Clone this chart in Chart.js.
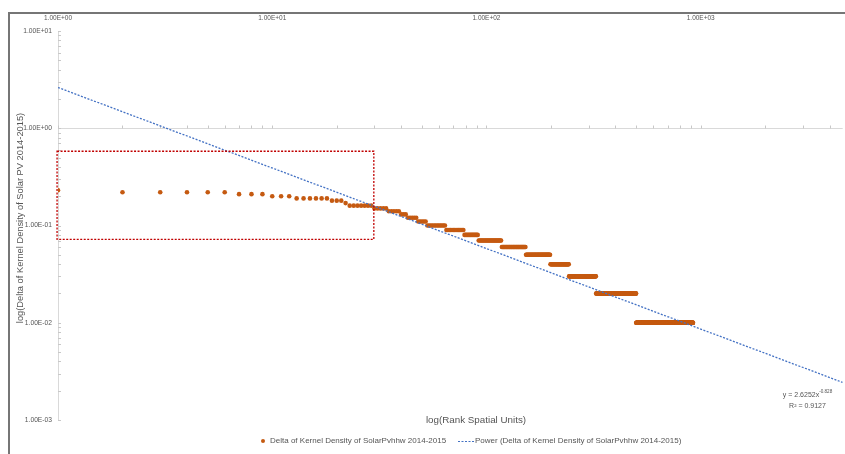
<!DOCTYPE html>
<html><head><meta charset="utf-8">
<script src="https://cdn.jsdelivr.net/npm/chart.js@4.4.1/dist/chart.umd.min.js"></script>
<style>html,body{margin:0;padding:0;background:#fff;overflow:hidden}canvas{display:block}</style>
</head><body>
<canvas id="c" width="845" height="454"></canvas>
<script>
const FONT = "'Liberation Sans', Arial, sans-serif";
const GREY_TEXT = '#555555';

// ---- data (rank ranges sharing one value) ----
const rankStart   = [1, 2, 7, 10, 13, 19, 22, 23, 30, 35, 40, 43, 48, 53, 65, 79, 92, 118, 153, 199, 243, 325, 500];
const rankEnd     = [1, 6, 9, 12, 18, 21, 22, 29, 34, 39, 42, 47, 52, 64, 78, 91, 117, 152, 198, 242, 324, 499, 920];
const deltaValues = [0.23, 0.22, 0.21, 0.20, 0.19, 0.18, 0.17, 0.16, 0.15, 0.14, 0.13, 0.12, 0.11, 0.10, 0.09, 0.08, 0.07, 0.06, 0.05, 0.04, 0.03, 0.02, 0.01];

// power trendline  y = a * x^b
const trendCoef = 2.6252;
const trendExp = -0.828;
const rSquared = 0.9127;
const trendRange = [1, 4600];

const xTickValues = [1, 10, 100, 1000];
const xTickLabels = ['1.00E+00', '1.00E+01', '1.00E+02', '1.00E+03'];
const yTickValues = [10, 1, 0.1, 0.01, 0.001];
const yTickLabels = ['1.00E+01', '1.00E+00', '1.00E-01', '1.00E-02', '1.00E-03'];

const seriesName = 'Delta of Kernel Density of SolarPvhhw 2014-2015';
const trendName = 'Power (Delta of Kernel Density of SolarPvhhw 2014-2015)';
const xTitle = 'log(Rank Spatial Units)';
const yTitle = 'log(Delta of Kernel Density of Solar PV 2014-2015)';

// highlighted region (data units)
const boxRankRange = [0.99, 29.8];
const boxValueRange = [0.072, 0.58];

// ---- build datasets ----
const points = [];
rankStart.forEach((s, i) => { for (let r = s; r <= rankEnd[i]; r++) points.push({x: r, y: deltaValues[i]}); });
const trendPoints = trendRange.map(x => ({x: x, y: trendCoef * Math.pow(x, trendExp)}));

const SERIES_COLOR = '#C55A11';
const TREND_COLOR = '#4472C4';

const decor = {
  id: 'decor',
  beforeDraw(chart) {
    const ctx = chart.ctx;
    ctx.save();
    ctx.fillStyle = '#ffffff';
    ctx.fillRect(0, 0, chart.width, chart.height);
    ctx.fillStyle = '#767676';
    ctx.fillRect(8, 12, chart.width - 8, 2);
    ctx.fillRect(8, 12, 2, chart.height - 12);
    ctx.restore();
  },
  beforeDatasetsDraw(chart) {
    const ctx = chart.ctx, xs = chart.scales.x, ys = chart.scales.y, ca = chart.chartArea;
    ctx.save();
    const yAx = Math.round(ys.getPixelForValue(1)) + 0.5;
    ctx.strokeStyle = '#D9D9D9'; ctx.lineWidth = 1;
    ctx.beginPath(); ctx.moveTo(ca.left, yAx); ctx.lineTo(ca.right, yAx); ctx.stroke();
    ctx.strokeStyle = '#C8C8C8';
    ctx.beginPath();
    for (let d = 0; d <= 3; d++) for (let m = 1; m <= 9; m++) {
      const v = m * Math.pow(10, d);
      if (v > xs.max) break;
      const px = Math.round(xs.getPixelForValue(v)) + 0.5;
      ctx.moveTo(px, yAx); ctx.lineTo(px, yAx - 3);
    }
    for (let d = -3; d <= 0; d++) for (let m = 1; m <= 9; m++) {
      const v = m * Math.pow(10, d);
      const py = Math.round(ys.getPixelForValue(v)) + 0.5;
      ctx.moveTo(ca.left, py); ctx.lineTo(ca.left + 3, py);
    }
    const pTop = Math.round(ys.getPixelForValue(10)) + 0.5;
    ctx.moveTo(ca.left, pTop); ctx.lineTo(ca.left + 3, pTop);
    ctx.stroke();
    ctx.restore();
  },
  afterDatasetsDraw(chart) {
    const ctx = chart.ctx, xs = chart.scales.x, ys = chart.scales.y;
    ctx.save();
    const x0 = xs.getPixelForValue(boxRankRange[0]), x1 = xs.getPixelForValue(boxRankRange[1]);
    const y0 = ys.getPixelForValue(boxValueRange[1]), y1 = ys.getPixelForValue(boxValueRange[0]);
    ctx.strokeStyle = '#C00000'; ctx.lineWidth = 1.3; ctx.setLineDash([2, 1.5]);
    ctx.strokeRect(x0, y0, x1 - x0, y1 - y0);
    ctx.setLineDash([]);

    ctx.fillStyle = GREY_TEXT;
    ctx.textBaseline = 'middle';
    ctx.textAlign = 'center';
    ctx.font = '9.8px ' + FONT;
    ctx.fillText(xTitle, 476, 420);
    ctx.save();
    ctx.translate(20, 218); ctx.rotate(-Math.PI / 2);
    ctx.font = '9.3px ' + FONT;
    ctx.fillText(yTitle, 0, 0);
    ctx.restore();

    ctx.font = '7px ' + FONT;
    const eqMain = 'y = ' + trendCoef + 'x';
    const eqSup = String(trendExp);
    const wMain = ctx.measureText(eqMain).width;
    ctx.font = '4.6px ' + FONT;
    const wSup = ctx.measureText(eqSup).width;
    const cx = 807.5;
    ctx.textAlign = 'left';
    ctx.font = '7px ' + FONT;
    const startX = cx - (wMain + wSup) / 2;
    ctx.fillText(eqMain, startX, 395);
    ctx.font = '4.6px ' + FONT;
    ctx.fillText(eqSup, startX + wMain, 392);
    ctx.font = '7px ' + FONT;
    ctx.textAlign = 'center';
    ctx.fillText('R\u00B2 = ' + rSquared, cx, 406);

    ctx.textAlign = 'left';
    ctx.font = '8px ' + FONT;
    ctx.fillStyle = SERIES_COLOR;
    ctx.beginPath(); ctx.arc(263, 441, 2, 0, Math.PI * 2); ctx.fill();
    ctx.fillStyle = GREY_TEXT;
    ctx.fillText(seriesName, 270, 441);
    ctx.strokeStyle = TREND_COLOR; ctx.lineWidth = 1.2; ctx.setLineDash([2, 1.5]);
    ctx.beginPath(); ctx.moveTo(458, 441.5); ctx.lineTo(474, 441.5); ctx.stroke();
    ctx.setLineDash([]);
    ctx.fillText(trendName, 475, 441);
    ctx.restore();
  }
};

new Chart(document.getElementById('c'), {
  type: 'scatter',
  data: {
    datasets: [
      {
        label: seriesName,
        data: points,
        order: 1,
        showLine: false,
        pointRadius: 2.3,
        pointHoverRadius: 2.3,
        pointBackgroundColor: SERIES_COLOR,
        pointBorderWidth: 0,
        backgroundColor: SERIES_COLOR,
        borderColor: SERIES_COLOR
      },
      {
        label: trendName,
        data: trendPoints,
        order: 0,
        showLine: true,
        pointRadius: 0,
        borderColor: TREND_COLOR,
        borderWidth: 1.3,
        borderDash: [2, 1.5],
        fill: false
      }
    ]
  },
  options: {
    responsive: false,
    animation: false,
    devicePixelRatio: 1,
    layout: {padding: {left: 0, top: 0, right: 0, bottom: 34}},
    scales: {
      x: {
        type: 'logarithmic', position: 'top', min: 1, max: 4600,
        afterBuildTicks: s => { s.ticks = xTickValues.map(v => ({value: v})); },
        afterFit: s => { s.height = 31; },
        grid: {display: false, drawTicks: false},
        border: {display: false},
        ticks: {
          autoSkip: false, maxRotation: 0, padding: 9, color: GREY_TEXT,
          font: {family: FONT, size: 6.5},
          callback: v => { const i = xTickValues.indexOf(v); return i >= 0 ? xTickLabels[i] : ''; }
        }
      },
      y: {
        type: 'logarithmic', min: 0.001, max: 10,
        afterBuildTicks: s => { s.ticks = yTickValues.map(v => ({value: v})); },
        afterFit: s => { s.width = 58; },
        grid: {display: false, drawTicks: false},
        border: {display: true, color: '#D9D9D9', width: 1},
        ticks: {
          autoSkip: false, padding: 6, color: GREY_TEXT,
          font: {family: FONT, size: 6.7},
          callback: v => { const i = yTickValues.indexOf(v); return i >= 0 ? yTickLabels[i] : ''; }
        }
      }
    },
    plugins: {legend: {display: false}, tooltip: {enabled: false}}
  },
  plugins: [decor]
});
</script>
</body></html>
